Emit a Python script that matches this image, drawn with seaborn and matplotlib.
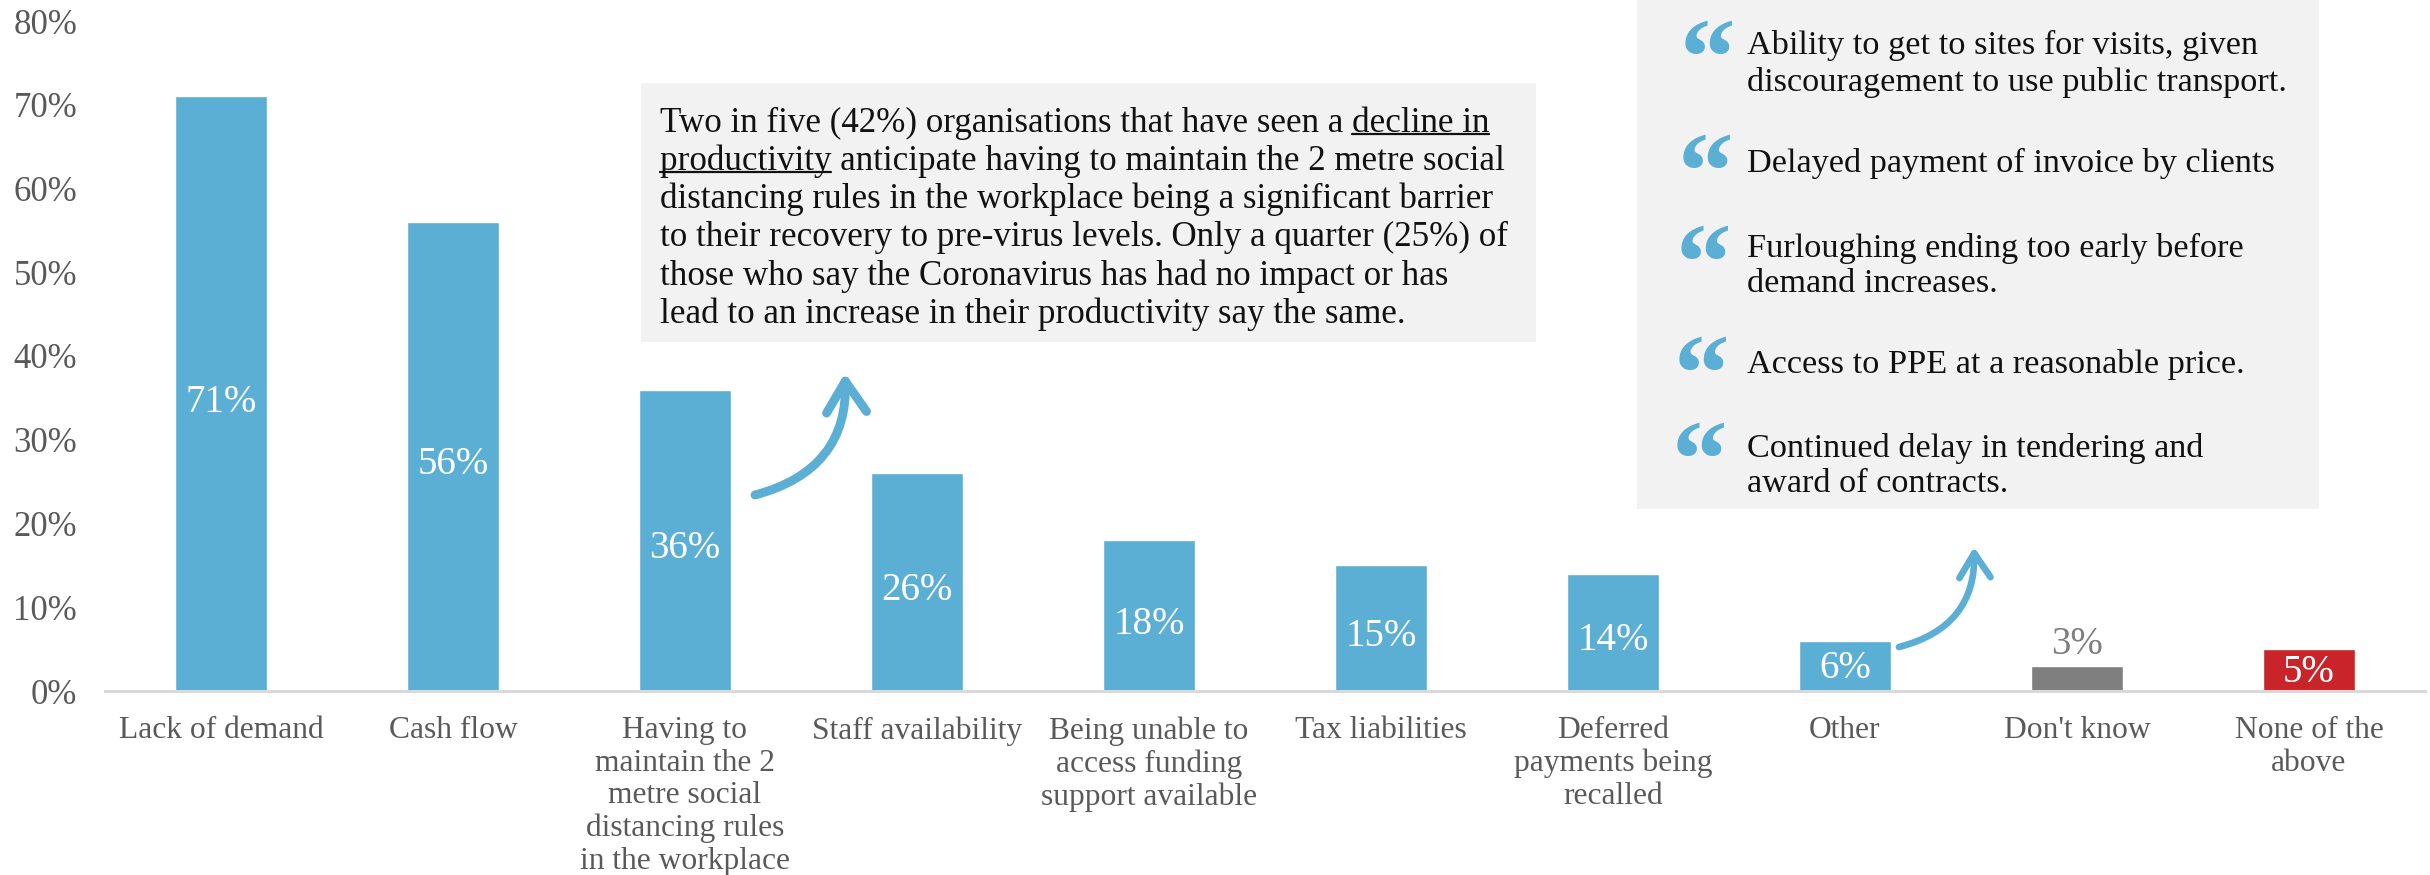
import matplotlib
matplotlib.use("Agg")
import matplotlib.pyplot as plt
from matplotlib.patches import FancyArrowPatch, Rectangle
from matplotlib.lines import Line2D
import seaborn as sns

# Survey responses: barriers to recovery
categories = [
    "Lack of demand", "Cash flow",
    "Having to\nmaintain the 2\nmetre social\ndistancing rules\nin the workplace",
    "Staff availability", "Being unable to\naccess funding\nsupport available",
    "Tax liabilities", "Deferred\npayments being\nrecalled", "Other",
    "Don't know", "None of the\nabove",
]
values = [71, 56, 36, 26, 18, 15, 14, 6, 3, 5]
bar_colours = ["#5BAED4"] * 8 + ["#7F7F7F", "#C8242A"]
label_colours = ["white"] * 8 + ["#7F7F7F", "white"]
y_ticks = [0, 10, 20, 30, 40, 50, 60, 70, 80]

callout_lines = [
    "Two in five (42%) organisations that have seen a decline in",
    "productivity anticipate having to maintain the 2 metre social",
    "distancing rules in the workplace being a significant barrier",
    "to their recovery to pre-virus levels. Only a quarter (25%) of",
    "those who say the Coronavirus has had no impact or has",
    "lead to an increase in their productivity say the same.",
]
quotes = [
    "Ability to get to sites for visits, given\ndiscouragement to use public transport.",
    "Delayed payment of invoice by clients",
    "Furloughing ending too early before\ndemand increases.",
    "Access to PPE at a reasonable price.",
    "Continued delay in tendering and\naward of contracts.",
]
quote_text_y = [64, 163, 266, 365, 466]
quote_mark_pos = [(1707, 67), (1705, 181), (1703, 272), (1701, 383), (1699, 469)]

W, H = 2430, 875
FONT = "Liberation Serif"
BLUE = "#5BAED4"
BOX = "#F2F2F2"
CALLOUT_SIZE = 25.2


def fx(px):
    return px / W


def fy(py):
    return 1 - py / H


sns.set_theme(style="white")
plt.rcParams["font.family"] = [FONT, "DejaVu Serif"]

fig = plt.figure(figsize=(W / 100, H / 100), dpi=100, facecolor="white")
ax = fig.add_axes([fx(105), fy(691), (2425 - 105) / W, (691 - 21) / H])
ax.patch.set_alpha(0)

sns.barplot(x=list(range(len(values))), y=values, hue=list(range(len(values))),
            palette=bar_colours, legend=False, width=0.4, saturation=1, ax=ax)
ax.set_xlim(-0.5, 9.5)
ax.set_ylim(0, 80)
ax.set_yticks(y_ticks, [f"{v}%" for v in y_ticks])
ax.set_xticks(range(len(categories)), categories)
ax.tick_params(axis="x", length=0, labelcolor="#595959", labelsize=22.7, pad=18)
ax.tick_params(axis="y", length=0, labelcolor="#595959", labelsize=25, pad=20)
for lab in ax.get_xticklabels():
    lab.set_linespacing(1.16)
sns.despine(ax=ax, left=True)
ax.spines["bottom"].set_color("#D9D9D9")
ax.spines["bottom"].set_linewidth(2.2)
ax.grid(False)

# Value labels: centred inside the bars, above the short grey bar
for i, (v, c) in enumerate(zip(values, label_colours)):
    if v == 3:
        y = 5.6
    else:
        y = v / 2 - (1.0 if v >= 10 else 0.3)
    ax.text(i, y, f"{v}%", color=c, ha="center", va="center", fontsize=28)

# Callout panels
fig.add_artist(Rectangle((fx(641), fy(342)), 895 / W, 259 / H,
                         transform=fig.transFigure, color=BOX, lw=0, zorder=1))
fig.add_artist(Rectangle((fx(1637), fy(509)), 682 / W, 509 / H,
                         transform=fig.transFigure, color=BOX, lw=0, zorder=1))

for k, line in enumerate(callout_lines):
    fig.text(fx(660), fy(123 + k * 38.3), line, fontsize=CALLOUT_SIZE, color="#111111",
             va="center", ha="left", zorder=3)

# Underline of the emphasised phrase across the first two lines
renderer = fig.canvas.get_renderer()


def text_width(s):
    probe = fig.text(0, 0, s, fontsize=CALLOUT_SIZE)
    w = probe.get_window_extent(renderer).width
    probe.remove()
    return w


x0 = 660 + text_width("Two in five (42%) organisations that have seen a ")
x1 = 660 + text_width(callout_lines[0])
x2 = 660 + text_width("productivity")
fig.add_artist(Line2D([fx(x0), fx(x1)], [fy(134), fy(134)], color="#111111", lw=1.6, zorder=3))
fig.add_artist(Line2D([fx(660), fx(x2)], [fy(172), fy(172)], color="#111111", lw=1.6, zorder=3))

for s, y in zip(quotes, quote_text_y):
    fig.text(fx(1747), fy(y), s, fontsize=24.7, color="#111111", va="center", ha="left",
             linespacing=1.22, zorder=3)
for (x, y) in quote_mark_pos:
    fig.text(fx(x), fy(y), "\u201C", fontsize=80, color=BLUE, fontweight="bold",
             ha="center", va="center", zorder=3)

# Curved arrows linking bars to their panels
for start, tip, lw, rad, hl, hw in [
    ((755, 495), (845, 373), 6.4, 0.40, 14, 9),
    ((1899, 647), (1974, 547), 4.8, 0.40, 11, 7),
]:
    fig.add_artist(FancyArrowPatch(
        (fx(start[0]), fy(start[1])), (fx(tip[0]), fy(tip[1])),
        transform=fig.transFigure, color=BLUE, lw=lw, capstyle="round", joinstyle="round",
        arrowstyle=f"->,head_length={hl},head_width={hw}",
        connectionstyle=f"arc3,rad={rad}", mutation_scale=1.6, shrinkA=0, shrinkB=0, zorder=3))

fig.savefig("out.png", dpi=100, facecolor="white")
